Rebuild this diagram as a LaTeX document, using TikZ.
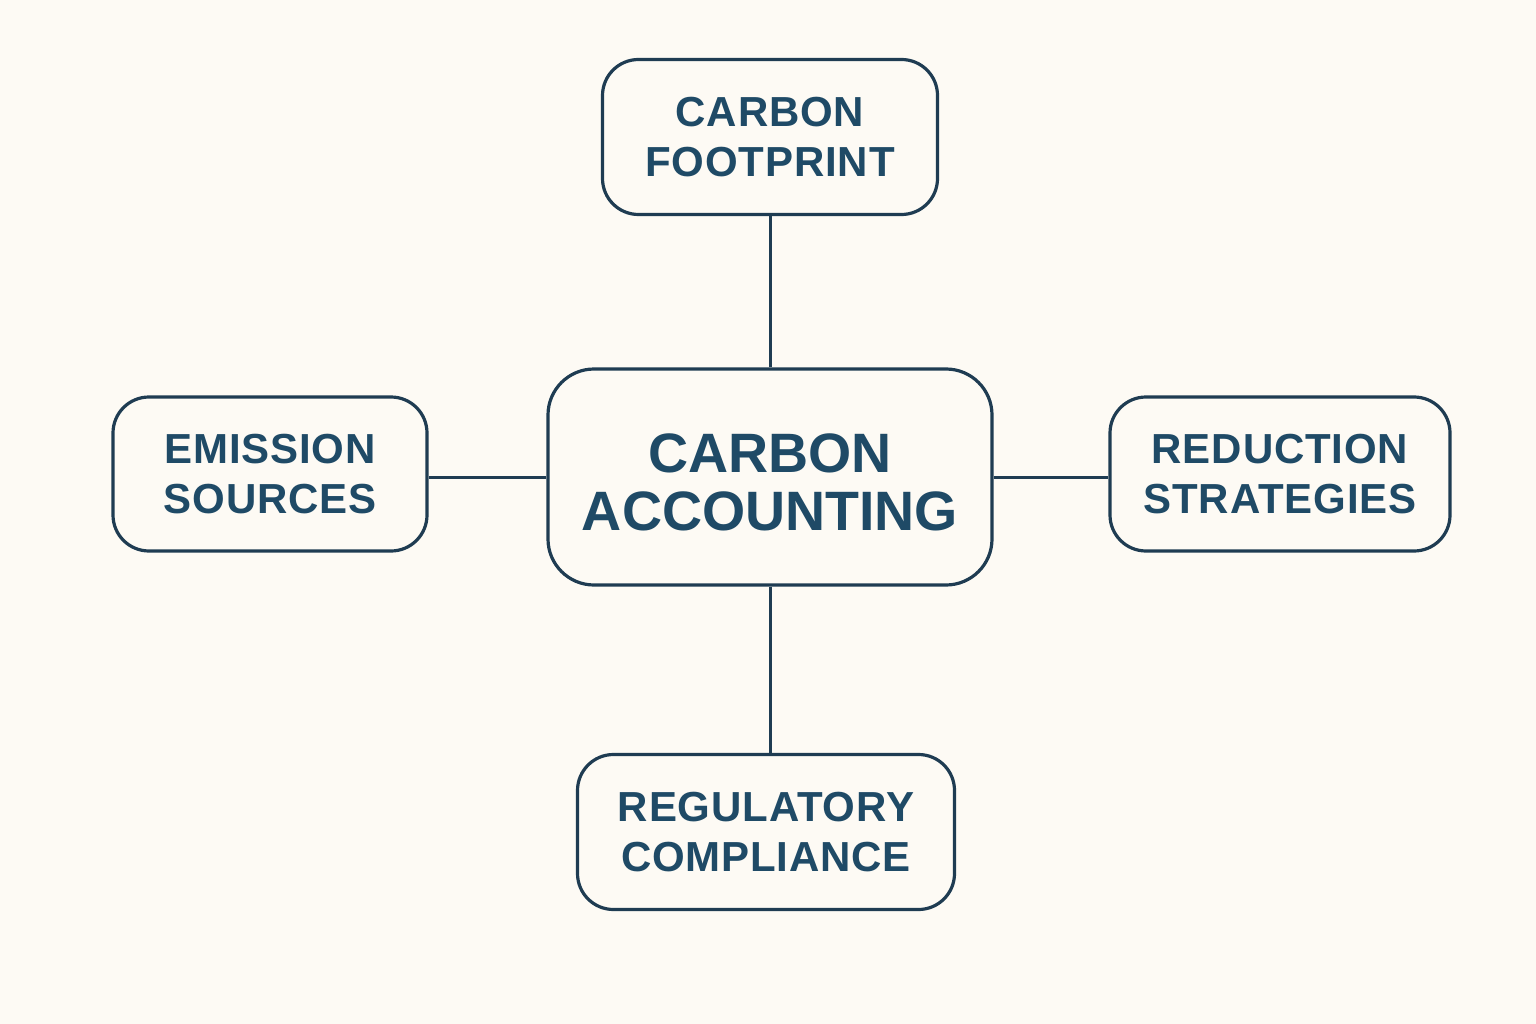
\documentclass[tikz,border=0pt]{standalone}
\usepackage{fontspec}
\setmainfont{Liberation Sans}
\newfontfamily\spaced{Liberation Sans}[LetterSpace=2]
\definecolor{bg}{HTML}{FDFAF4}
\definecolor{edge}{HTML}{1F3C52}
\definecolor{ink}{HTML}{1F4A66}
\tikzset{
  box/.style={draw=edge, line width=3.2pt, rounded corners=36pt, fill=bg,
    text=ink, align=center, inner sep=0pt,
    font=\spaced\bfseries\fontsize{42}{50}\selectfont},
  hub/.style={box, rounded corners=46pt,
    font=\bfseries\fontsize{55.5}{58}\selectfont},
  link/.style={draw=edge, line width=3pt}
}
\begin{document}
\begin{tikzpicture}[x=1pt,y=-1pt]
\useasboundingbox[fill=bg] (0,0) rectangle (1536,1024);
\node[hub, minimum width=444pt, minimum height=216pt] (center) at (770,477) {};
\node[text=ink, align=center, inner sep=0pt, font=\bfseries\fontsize{55.5}{58}\selectfont] (centertext) at (770,482) {CARBON\\ACCOUNTING};
\node[box, minimum width=335pt, minimum height=155pt] (top) at (770,137) {CARBON\\FOOTPRINT};
\node[box, minimum width=314pt, minimum height=154pt] (left) at (270,474) {EMISSION\\SOURCES};
\node[box, minimum width=340pt, minimum height=154pt] (right) at (1280,474) {REDUCTION\\STRATEGIES};
\node[box, minimum width=377pt, minimum height=155pt] (bottom) at (766,832) {REGULATORY\\COMPLIANCE};
\draw[link] (center.north) -- (center.north |- top.south);
\draw[link] (center.south) -- (center.south |- bottom.north);
\draw[link] (center.west) -- (center.west -| left.east);
\draw[link] (center.east) -- (center.east -| right.west);
\end{tikzpicture}
\end{document}
